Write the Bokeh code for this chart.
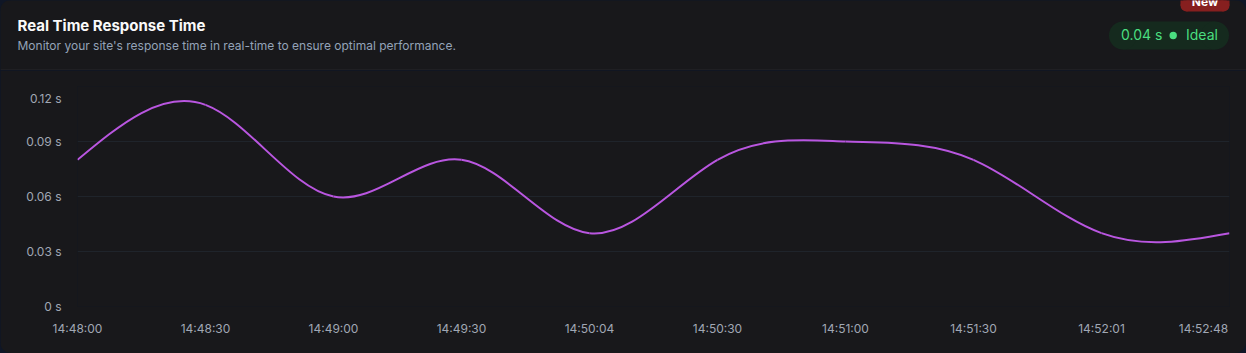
import numpy as np
from bokeh.plotting import figure
from bokeh.models import Range1d, FixedTicker
from bokeh.layouts import column
from bokeh.embed import file_html
from bokeh.resources import INLINE
from bokeh.core.properties import value

# ---------------- data ----------------
times = ["14:48:00", "14:48:30", "14:49:00", "14:49:30", "14:50:04",
         "14:50:30", "14:51:00", "14:51:30", "14:52:01", "14:52:48"]
response_s = [0.08, 0.11, 0.06, 0.08, 0.04, 0.08, 0.09, 0.08, 0.04, 0.04]
y_ticks = [0, 0.03, 0.06, 0.09, 0.12]
y_tick_labels = ["0 s", "0.03 s", "0.06 s", "0.09 s", "0.12 s"]
title_text = "Real Time Response Time"
subtitle_text = "Monitor your site's response time in real-time to ensure optimal performance."
current_text = "0.04 s"
status_text = "Ideal"
badge_text = "New"

# ---------------- style ----------------
CARD = "#18181b"
NAVY = "#0f1626"
FONT = value("Inter")
LINE = "#b956e0"
GRID = "#1f242b"
TICK = "#a0a7b4"
W, H_HEAD, H_CHART = 1246, 70, 283
FRAME_L, FRAME_R, FRAME_T, FRAME_B = 77, 17, 16, 47
PX_PER_X = (W - FRAME_L - FRAME_R) / (len(times) - 1)
PX_PER_Y = (H_CHART - FRAME_T - FRAME_B) / (y_ticks[-1] - y_ticks[0])


def natural_controls(v):
    # d3.curveNatural control points
    v = np.asarray(v, dtype=float)
    n = len(v) - 1
    a = np.zeros(n); b = np.zeros(n); r = np.zeros(n)
    a[0], b[0], r[0] = 0, 2, v[0] + 2 * v[1]
    for i in range(1, n - 1):
        a[i], b[i], r[i] = 1, 4, 4 * v[i] + 2 * v[i + 1]
    a[n - 1], b[n - 1], r[n - 1] = 2, 7, 8 * v[n - 1] + v[n]
    for i in range(1, n):
        m = a[i] / b[i - 1]
        b[i] -= m
        r[i] -= m * r[i - 1]
    a[n - 1] = r[n - 1] / b[n - 1]
    for i in range(n - 2, -1, -1):
        a[i] = (r[i] - a[i + 1]) / b[i]
    b[n - 1] = (v[n] + a[n - 1]) / 2
    for i in range(n - 1):
        b[i] = 2 * v[i + 1] - a[i + 1]
    return a, b


# ---------------- header ----------------
h = figure(width=W, height=H_HEAD, x_range=Range1d(0, W), y_range=Range1d(0, H_HEAD),
           min_border=0, min_border_left=0, min_border_right=0, min_border_top=0, min_border_bottom=0,
           x_axis_location=None, y_axis_location=None,
           output_backend="svg", toolbar_location=None,
           background_fill_color=CARD, border_fill_color=CARD, outline_line_color=None,
           styles={"border-radius": "11px 11px 0 0", "overflow": "hidden"})
h.frame_align = False
h.grid.visible = False


def Y(px):
    return H_HEAD - px


h.text(x=[17], y=[Y(24.5)], text=[title_text], text_font=FONT, text_font_size="15px",
       text_font_style="bold", text_color="#fafafa", text_baseline="alphabetic")
h.text(x=[17], y=[Y(44.5)], text=[subtitle_text], text_font=FONT, text_font_size="12px",
       text_color="#94a3b8", text_baseline="alphabetic")
h.segment(x0=[0], y0=[Y(69.5)], x1=[W], y1=[Y(69.5)], line_color="#26272d", line_width=1)

# pill
h.quad(left=[1122.5], right=[1214.5], top=[Y(21)], bottom=[Y(49)],
       fill_color="#152a1e", line_color=None)
h.circle(x=[1122.5, 1214.5], y=[Y(35), Y(35)], radius=14, fill_color="#152a1e", line_color=None)
h.text(x=[1120.5], y=[Y(34)], text=[current_text], text_font=FONT, text_font_size="14px",
       text_color="#4ade80", text_baseline="alphabetic")
h.circle(x=[1172.7], y=[Y(35)], radius=3.7, fill_color="#4ade80", line_color=None)
h.text(x=[1185.5], y=[Y(34)], text=[status_text], text_font=FONT, text_font_size="14px",
       text_color="#4ade80", text_baseline="alphabetic")

# badge
h.quad(left=[1180], right=[1229], top=[Y(-2)], bottom=[Y(5)], fill_color="#861f1f", line_color=None)
h.quad(left=[1186], right=[1223], top=[Y(-2)], bottom=[Y(11)], fill_color="#861f1f", line_color=None)
h.circle(x=[1186, 1223], y=[Y(5), Y(5)], radius=6, fill_color="#861f1f", line_color=None)
h.text(x=[1204.5], y=[Y(0.5)], text=[badge_text], text_font=FONT, text_font_size="12px",
       text_font_style="bold", text_color="#ffffff", text_align="center", text_baseline="alphabetic")

# ---------------- chart ----------------
xs = list(range(len(times)))
p = figure(width=W, height=H_CHART, x_range=Range1d(0, len(times) - 1),
           y_range=Range1d(y_ticks[0], y_ticks[-1]),
           min_border_left=FRAME_L, min_border_right=FRAME_R,
           min_border_top=FRAME_T, min_border_bottom=FRAME_B,
           output_backend="svg", toolbar_location=None,
           background_fill_color=CARD, border_fill_color=CARD, outline_line_color=None,
           styles={"border-radius": "0 0 11px 11px", "overflow": "hidden"})
p.frame_align = False

p.xgrid.visible = False
p.ygrid.ticker = FixedTicker(ticks=y_ticks)
p.ygrid.grid_line_color = GRID
p.ygrid.grid_line_width = 1

for ax in (p.xaxis[0], p.yaxis[0]):
    ax.axis_line_color = None
    ax.major_tick_line_color = None
    ax.minor_tick_line_color = None
    ax.major_label_text_color = TICK
    ax.major_label_text_font = "Inter"
    ax.major_label_text_font_size = "12px"

# edge labels are pulled inside the card, as in the reference
last_x_tick = xs[-1] - 26 / PX_PER_X
x_tick_pos = xs[:-1] + [last_x_tick]
p.xaxis.ticker = FixedTicker(ticks=x_tick_pos)
p.xaxis.major_label_overrides = {t: lab for t, lab in zip(x_tick_pos, times)}
p.xaxis.major_label_standoff = 8

top_y_tick = y_ticks[-1] - 12 / PX_PER_Y
y_tick_pos = y_ticks[:-1] + [top_y_tick]
p.yaxis.ticker = FixedTicker(ticks=y_tick_pos)
p.yaxis.major_label_overrides = {t: lab for t, lab in zip(y_tick_pos, y_tick_labels)}
p.yaxis.major_label_standoff = 10

# smooth natural curve through the data
cx0, cx1 = natural_controls(xs)
cy0, cy1 = natural_controls(response_s)
p.bezier(x0=xs[:-1], y0=response_s[:-1], x1=xs[1:], y1=response_s[1:],
         cx0=cx0, cy0=cy0, cx1=cx1, cy1=cy1, line_color=LINE, line_width=2)

layout = column(h, p, spacing=0, styles={"background-color": NAVY})
open("out.html", "w").write(file_html(layout, INLINE))
